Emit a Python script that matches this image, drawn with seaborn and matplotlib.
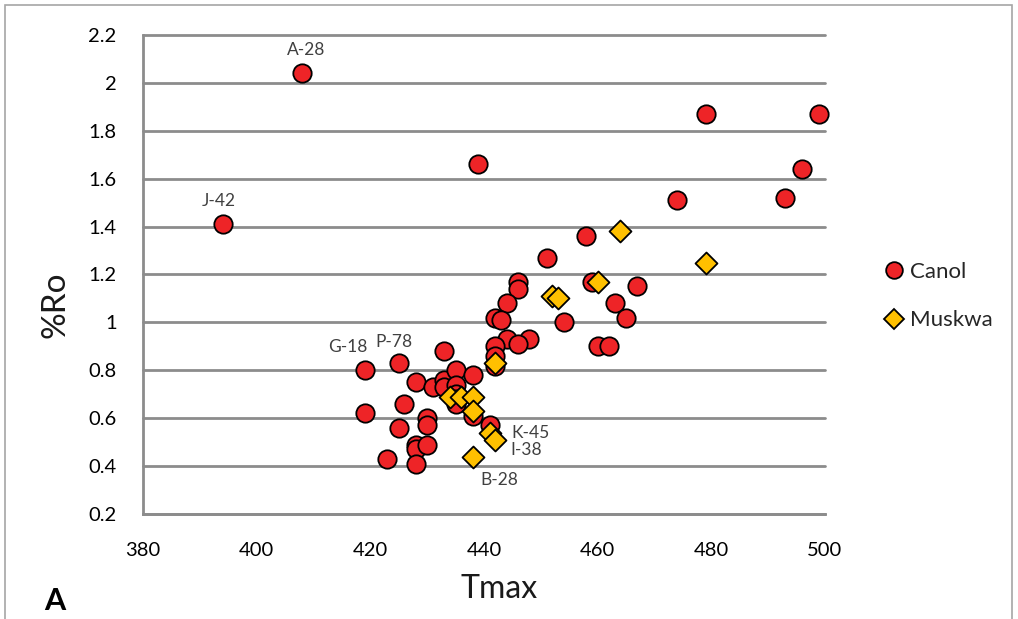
import matplotlib
matplotlib.use("Agg")
import matplotlib.pyplot as plt
from matplotlib.lines import Line2D
from matplotlib.patches import Rectangle
import numpy as np
import pandas as pd
import seaborn as sns

# Canol formation samples: Rock-Eval Tmax (°C) vs vitrinite reflectance (%Ro)
canol_tmax = [408, 394, 439, 479, 499, 496, 493, 474, 458, 451, 459, 467, 463, 465,
              460, 462, 454, 446, 446, 444, 442, 443, 444, 448, 446, 442, 442, 442,
              419, 419, 425, 426, 425, 423, 428, 428, 428, 428, 430, 430, 430, 431,
              433, 433, 433, 435, 435, 435, 435, 435, 438, 438, 441]
canol_ro = [2.04, 1.41, 1.66, 1.87, 1.87, 1.64, 1.52, 1.51, 1.36, 1.27, 1.17, 1.15, 1.08, 1.02,
            0.90, 0.90, 1.00, 1.17, 1.14, 1.08, 1.02, 1.01, 0.93, 0.93, 0.91, 0.90, 0.86, 0.82,
            0.80, 0.62, 0.83, 0.66, 0.56, 0.43, 0.75, 0.49, 0.47, 0.41, 0.60, 0.57, 0.49, 0.73,
            0.88, 0.76, 0.73, 0.80, 0.74, 0.70, 0.68, 0.66, 0.78, 0.61, 0.57]

# Muskwa formation samples
muskwa_tmax = [464, 479, 460, 452, 453, 442, 434, 436, 438, 438, 441, 442, 438]
muskwa_ro = [1.38, 1.25, 1.17, 1.11, 1.10, 0.83, 0.69, 0.69, 0.69, 0.63, 0.54, 0.51, 0.44]

# Well labels attached to individual samples (offsets in pixels)
well_labels = ["A-28", "J-42", "G-18", "P-78", "K-45", "I-38", "B-28"]
well_tmax = [408, 394, 419, 425, 441, 442, 438]
well_ro = [2.04, 1.41, 0.80, 0.83, 0.54, 0.51, 0.44]
well_dx = [4, -4, -17, -5, 41, 31, 27]
well_dy = [23, 23, 23, 21, 0, -10, -23]

series_names = ["Canol", "Muskwa"]
series_colors = {"Canol": "#EE2427", "Muskwa": "#FFC000"}
series_markers = {"Canol": "o", "Muskwa": "D"}
series_sizes = {"Canol": 175, "Muskwa": 125}

x_ticks = [380, 400, 420, 440, 460, 480, 500]
y_ticks = [0.2, 0.4, 0.6, 0.8, 1.0, 1.2, 1.4, 1.6, 1.8, 2.0, 2.2]
y_tick_labels = ["0.2", "0.4", "0.6", "0.8", "1", "1.2", "1.4", "1.6", "1.8", "2", "2.2"]

df = pd.DataFrame({
    "Tmax": canol_tmax + muskwa_tmax,
    "Ro": canol_ro + muskwa_ro,
    "Formation": ["Canol"] * len(canol_tmax) + ["Muskwa"] * len(muskwa_tmax),
})

sns.set_theme(style="white")
plt.rcParams["font.family"] = ["Lato", "DejaVu Sans"]

grid_grey = "#8C8C8C"

fig = plt.figure(figsize=(10.18, 6.19), dpi=100)
ax = fig.add_axes([143 / 1018, 1 - 514 / 619, (825 - 143) / 1018, (514 - 35) / 619])

# Outer chart frame
fig.patches.append(Rectangle((5 / 1018, -0.05), (1012 - 5) / 1018, 1.05 - 5 / 619,
                             transform=fig.transFigure, fill=False,
                             edgecolor="#A6A6A6", linewidth=1.2, zorder=0))

for name in series_names:
    sub = df[df["Formation"] == name]
    sns.scatterplot(data=sub, x="Tmax", y="Ro", ax=ax,
                    color=series_colors[name], marker=series_markers[name],
                    s=series_sizes[name], edgecolor="black", linewidth=1.3,
                    legend=False, zorder=3, clip_on=False)

ax.set_xlim(380, 500)
ax.set_ylim(0.2, 2.2)
ax.set_xticks(x_ticks)
ax.set_yticks(y_ticks)
ax.set_yticklabels(y_tick_labels)

for yv in y_ticks:
    ax.axhline(yv, color=grid_grey, linewidth=2.0, zorder=1, clip_on=False)

for side in ["top", "right"]:
    ax.spines[side].set_visible(False)
for side in ["left", "bottom"]:
    ax.spines[side].set_color(grid_grey)
    ax.spines[side].set_linewidth(2.0)
    ax.spines[side].set_zorder(1)

ax.tick_params(axis="x", direction="in", length=6, width=1.5, color=grid_grey,
               labelsize=14.5, labelcolor="black", pad=20)
ax.tick_params(axis="y", direction="out", length=7, width=2.0, color=grid_grey,
               labelsize=14.5, labelcolor="black", pad=12)

ax.set_xlabel("Tmax", fontsize=23, color="#1a1a1a", va="center")
ax.set_ylabel("%Ro", fontsize=24, color="#1a1a1a", va="center")
ax.xaxis.set_label_coords((499 - 143) / (825 - 143), -(589 - 514) / (514 - 35))
ax.yaxis.set_label_coords(-(143 - 55) / (825 - 143), (514 - 305) / (514 - 35))

for lab, tx, ro, dx, dy in zip(well_labels, well_tmax, well_ro, well_dx, well_dy):
    ax.annotate(lab, (tx, ro), xytext=(dx, dy), textcoords="offset pixels",
                ha="center", va="center", fontsize=12.5, color="#404040", zorder=4)

handles = [Line2D([], [], linestyle="none", marker=series_markers[n],
                  markerfacecolor=series_colors[n], markeredgecolor="black",
                  markeredgewidth=1.3, markersize=12 if n == "Canol" else 10)
           for n in series_names]
fig.legend(handles, series_names, loc="center left",
           bbox_to_anchor=(861 / 1018, 1 - 296 / 619), frameon=False,
           fontsize=16, handletextpad=0.1, labelspacing=1.3, handlelength=1.2)

fig.text(55 / 1018, 1 - 601 / 619, "A", fontsize=22, fontweight="bold",
         ha="center", va="center", color="black")

fig.savefig("out.png", dpi=100)
